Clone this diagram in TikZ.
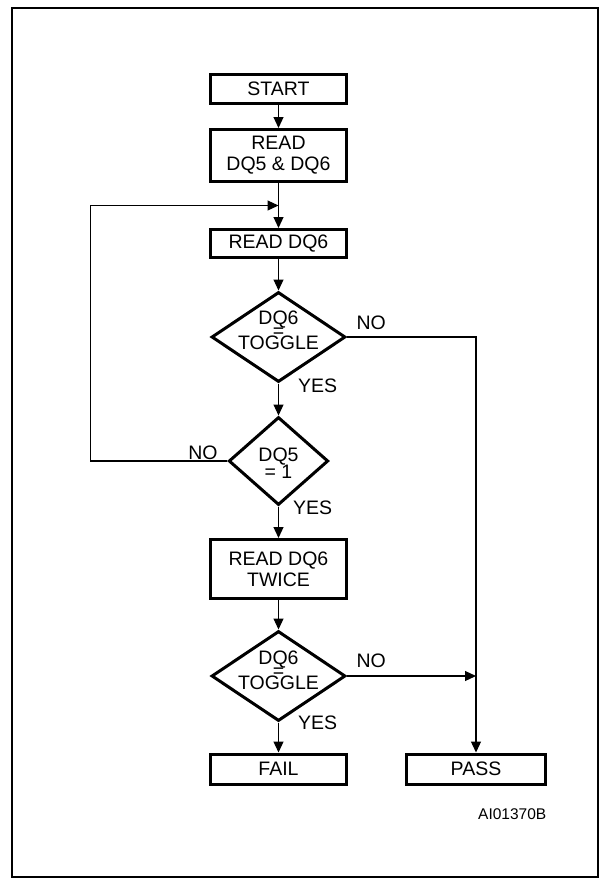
\documentclass[tikz,border=0pt]{standalone}
\usepackage{fontspec}
\setmainfont{Liberation Sans}
\usetikzlibrary{shapes.geometric,arrows.meta,positioning,calc}

\begin{document}
\begin{tikzpicture}[box/.style={rectangle,draw,line width=3pt,minimum width=136pt,inner sep=0pt,align=center,font=\fontsize{19.5pt}{21pt}\selectfont},
                    test/.style={diamond,draw,line width=3pt,inner sep=0pt,minimum width=134pt,minimum height=90pt},
                    dtext/.style={inner sep=0pt,align=center,font=\fontsize{19.5pt}{21pt}\selectfont},
                    tag/.style={inner sep=0pt,font=\fontsize{19.5pt}{21pt}\selectfont},
                    flow/.style={line width=1.2pt,-{Triangle[length=11pt,width=10pt]}}]
          \useasboundingbox (0,0) rectangle (601pt,-879pt);
          \draw[line width=2.5pt] (12pt,-8pt) rectangle (598pt,-877pt);
          \node[box,minimum height=29pt](start) at (278.5pt,-89pt) {START};
          \node[box,minimum height=52pt](rd56)  [node distance = 66.5pt, below of = start]  {READ\\DQ5 \& DQ6};
          \node[box,minimum height=28pt](rd6)   [node distance = 88pt, below of = rd56]    {READ DQ6};
          \node[test,label={[dtext,yshift=6.5pt]center:{DQ6\\[-8.5pt]=\\[-8.5pt]TOGGLE}}](tog1) [node distance = 93.5pt, below of = rd6] {};
          \node[test,minimum width=99.5pt,minimum height=88pt,label={[dtext,yshift=-2.5pt]center:{DQ5\\[-4pt]= 1}}](dq5) [node distance = 124pt, below of = tog1] {};
          \node[box,minimum height=59pt](rd6x2) [node distance = 108pt, below of = dq5]   {READ DQ6\\TWICE};
          \node[test,label={[dtext,yshift=5.5pt]center:{DQ6\\[-8.5pt]=\\[-8.5pt]TOGGLE}}](tog2) [node distance = 107pt, below of = rd6x2] {};
          \node[box,minimum height=30pt](fail)  [node distance = 93pt, below of = tog2]    {FAIL};
          \node[box,minimum height=30pt,minimum width=139pt](pass) [node distance = 197.5pt, right of = fail] {PASS};
          \node[tag,font=\fontsize{15.5pt}{18pt}\selectfont,anchor=base east](code) at ([xshift=-0.5pt,yshift=-34pt]pass.south east) {AI01370B};
          \coordinate (merge) at ($(rd56.south)!0.5!(rd6.north)$);
          \coordinate (back)  at ([xshift=-137pt]dq5.west);
          \path[flow]
            (start) edge node {} (rd56)
            (rd56)  edge node {} (rd6)
            (rd6)   edge node {} (tog1)
            (tog1)  edge node[tag,pos=0,anchor=west,xshift=19pt,yshift=-2pt] {YES} (dq5)
            (dq5)   edge node[tag,pos=0,anchor=west,xshift=14pt,yshift=-1.5pt] {YES} (rd6x2)
            (rd6x2) edge node {} (tog2)
            (tog2)  edge node[tag,pos=0,anchor=west,xshift=19pt,yshift=-0.5pt] {YES} (fail)
            (tog2)  edge node[tag,pos=0,anchor=south west,xshift=9pt,yshift=8pt] {NO} (tog2 -| pass)
            ;
          \draw[flow] (tog1.east) -| node[tag,pos=0,anchor=south west,xshift=9pt,yshift=7pt] {NO} (pass.north);
          \draw[flow] (dq5.west) -- node[tag,pos=0,anchor=south east,xshift=-9pt,yshift=1pt] {NO} (back) |- (merge);
        \end{tikzpicture}
\end{document}
